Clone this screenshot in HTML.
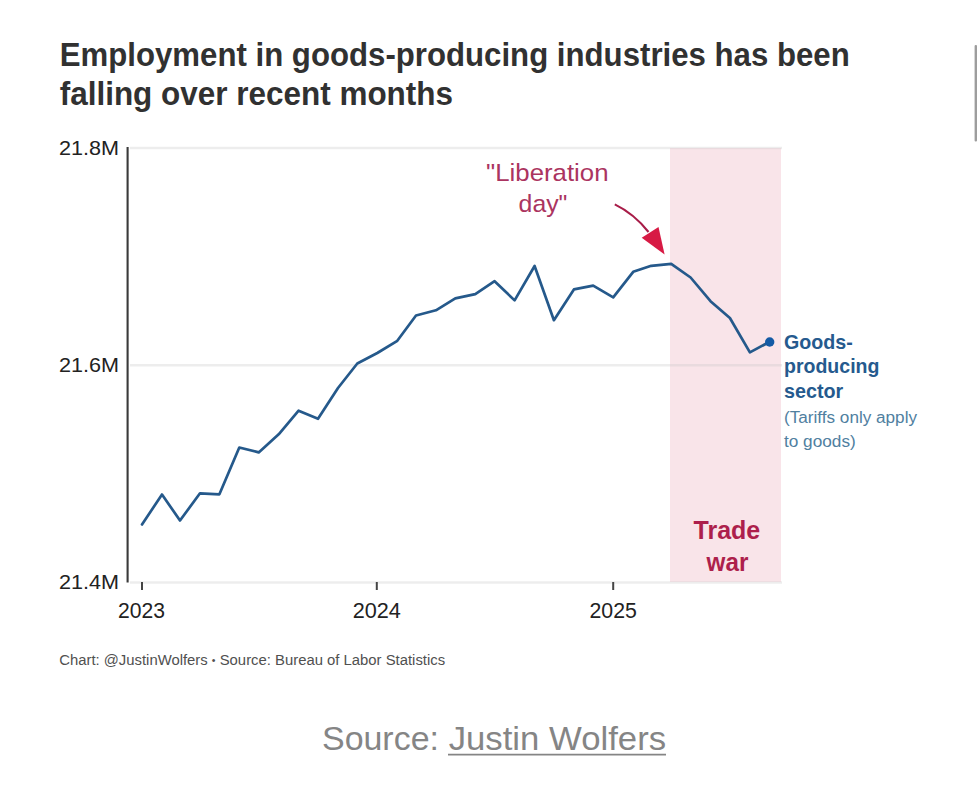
<!DOCTYPE html>
<html><head><meta charset="utf-8"><title>Employment in goods-producing industries</title>
<style>
html,body{margin:0;padding:0;background:#fff;}
body{width:977px;height:785px;overflow:hidden;position:relative;font-family:"Liberation Sans",Arial,sans-serif;}
svg{position:absolute;left:0;top:0;}
text{font-family:"Liberation Sans",Arial,sans-serif;}
.t{font-weight:bold;fill:#313131;font-size:32.5px;}
.yl{font-size:19.6px;fill:#222;}
.xl{font-size:21.3px;fill:#222;}
.ann{font-size:24.2px;fill:#ab3460;}
.tw{font-size:25.4px;font-weight:bold;fill:#ad1f4c;}
.lg{font-size:20.4px;font-weight:bold;fill:#255a8e;}
.lg2{font-size:16px;fill:#50809f;}
.ft{font-size:14px;fill:#505050;}
.src{font-size:33px;fill:#858585;}
</style></head>
<body>
<svg width="977" height="785" viewBox="0 0 977 785">
  <rect x="974.6" y="45" width="2.4" height="96.5" rx="1" fill="#9d9d9d"/>
  <!-- pink region -->
  <rect x="670" y="148" width="111" height="434" fill="#f9e4e9"/>
  <!-- gridlines -->
  <g stroke="#c8c8c8" stroke-opacity="0.32" stroke-width="2.4">
    <line x1="130" y1="148" x2="782" y2="148"/>
    <line x1="130" y1="365.2" x2="782" y2="365.2"/>
    <line x1="130" y1="582.5" x2="782" y2="582.5"/>
  </g>
  <!-- axis -->
  <line x1="127.6" y1="147" x2="127.6" y2="582.6" stroke="#3a3a3a" stroke-width="2.1"/>
  <g stroke="#444" stroke-width="2">
    <line x1="142" y1="582" x2="142" y2="590"/>
    <line x1="376.8" y1="582" x2="376.8" y2="590"/>
    <line x1="613.2" y1="582" x2="613.2" y2="590"/>
  </g>
  <!-- data -->
  <polyline fill="none" stroke="#25598b" stroke-width="2.7" stroke-linejoin="round" stroke-linecap="round"
    points="142.0,524.5 162.0,494.5 180.0,520.5 200.0,493.3 219.4,494.3 239.3,447.5 258.7,452.4 278.7,434.3 298.6,410.7 318.0,418.8 338.0,388 357.3,363.5 377.3,353 397.3,340.8 416.0,315.5 435.9,310.3 455.3,298.4 475.3,294.1 494.6,281.2 514.6,300.4 534.6,266 553.9,320.2 573.9,289.4 593.2,285.6 613.2,297.3 633.2,271.8 651.2,265.8 671.2,263.8 690.6,277.5 710.5,301.2 729.9,318 749.9,352.4 769.8,341.7"/>
  <circle cx="769.7" cy="342" r="4.7" fill="#145aa5"/>
  <!-- arrow -->
  <path d="M614.8,204.4 Q634,213.7 648.5,232" fill="none" stroke="#a81c48" stroke-width="2.1"/>
  <polygon points="641.7,237.8 658.5,227.1 664.6,254.6" fill="#d71a44"/>
  <!-- underline -->
  <line x1="448" y1="754.6" x2="666" y2="754.6" stroke="#858585" stroke-width="1.6"/>
  <text class="t" x="59.70" y="66.10" textLength="790.01" lengthAdjust="spacingAndGlyphs">Employment in goods-producing industries has been</text>
  <text class="t" x="59.70" y="105.20" textLength="393.34" lengthAdjust="spacingAndGlyphs">falling over recent months</text>
  <text class="yl" x="59.00" y="154.70" textLength="60.07" lengthAdjust="spacingAndGlyphs">21.8M</text>
  <text class="yl" x="59.00" y="372.20" textLength="60.07" lengthAdjust="spacingAndGlyphs">21.6M</text>
  <text class="yl" x="59.00" y="589.20" textLength="60.07" lengthAdjust="spacingAndGlyphs">21.4M</text>
  <text class="xl" x="118.00" y="617.60" textLength="46.99" lengthAdjust="spacingAndGlyphs">2023</text>
  <text class="xl" x="352.70" y="617.60" textLength="48.19" lengthAdjust="spacingAndGlyphs">2024</text>
  <text class="xl" x="589.50" y="617.60" textLength="47.39" lengthAdjust="spacingAndGlyphs">2025</text>
  <text class="ann" x="486.10" y="180.60" textLength="122.43" lengthAdjust="spacingAndGlyphs">"Liberation</text>
  <text class="ann" x="518.60" y="211.70" textLength="48.79" lengthAdjust="spacingAndGlyphs">day"</text>
  <text class="tw" x="693.50" y="538.50" textLength="66.75" lengthAdjust="spacingAndGlyphs">Trade</text>
  <text class="tw" x="706.60" y="570.70" textLength="41.77" lengthAdjust="spacingAndGlyphs">war</text>
  <text class="lg" x="784.00" y="348.50" textLength="68.76" lengthAdjust="spacingAndGlyphs">Goods-</text>
  <text class="lg" x="784.00" y="373.40" textLength="95.40" lengthAdjust="spacingAndGlyphs">producing</text>
  <text class="lg" x="784.00" y="397.60" textLength="59.19" lengthAdjust="spacingAndGlyphs">sector</text>
  <text class="lg2" x="784.00" y="422.90" textLength="133.00" lengthAdjust="spacingAndGlyphs">(Tariffs only apply</text>
  <text class="lg2" x="784.00" y="446.50" textLength="71.72" lengthAdjust="spacingAndGlyphs">to goods)</text>
  <text class="ft" x="59.20" y="664.90" textLength="385.92" lengthAdjust="spacingAndGlyphs">Chart: @JustinWolfers <tspan font-size="10" dy="-1">•</tspan><tspan dy="1"> Source: Bureau of Labor Statistics</tspan></text>
  <text class="src" x="322.00" y="750.20" textLength="116.93" lengthAdjust="spacingAndGlyphs">Source:</text>
  <text class="src" x="448.70" y="750.20" textLength="217.42" lengthAdjust="spacingAndGlyphs">Justin Wolfers</text>
</svg>
</body></html>
